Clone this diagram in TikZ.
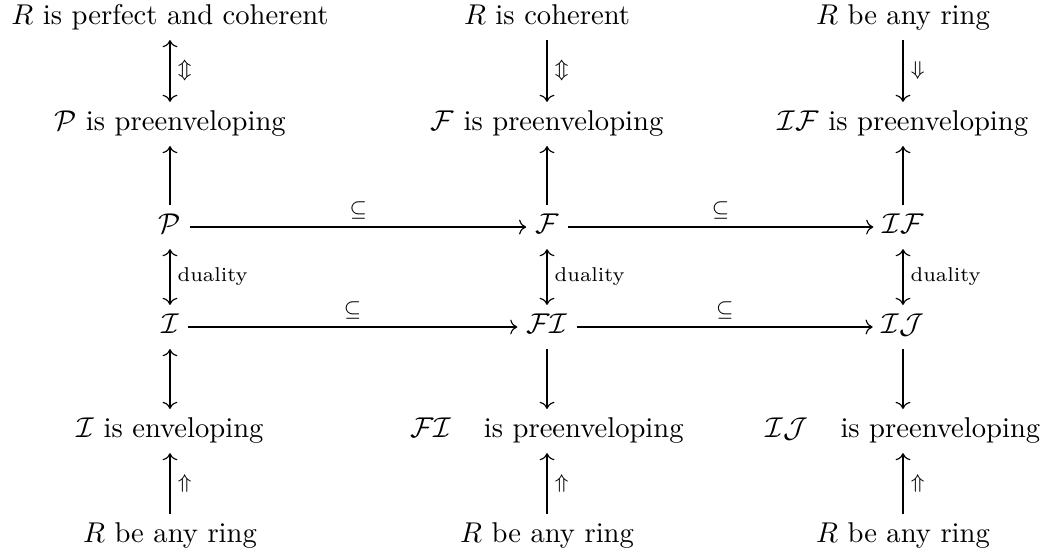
\documentclass[tikz,border=0pt]{standalone}
\usepackage{amsmath,amssymb}
\usepackage{tikz}
\usetikzlibrary{arrows.meta}

\begin{document}
\begin{tikzpicture}[
  x=1cm,y=1cm,
  obj/.style={text height=1.6ex,text depth=0.5ex,inner sep=3pt},
  arr/.style={-{Computer Modern Rightarrow},line width=0.4pt},
  darr/.style={{Computer Modern Rightarrow}-{Computer Modern Rightarrow},line width=0.4pt},
  lab/.style={font=\scriptsize,inner sep=2.5pt}
]
\useasboundingbox (0,0) rectangle (12.85,6.806);

% First column.
\node[obj] (r1) at (2.088,6.585) {$R$ is perfect and coherent};
\node[obj] (pp) at (2.088,5.283) {$\mathcal{P}$ is preenveloping};
\node[obj] (P) at (2.088,4.017) {$\mathcal{P}$};
\node[obj] (I) at (2.088,2.789) {$\mathcal{I}$};
\node[obj] (ie) at (2.088,1.511) {$\mathcal{I}$ is enveloping};
\node[obj] (rb1) at (2.088,0.221) {$R$ be any ring};

% Second column.
\node[obj] (rc) at (6.720,6.585) {$R$ is coherent};
\node[obj] (fp) at (6.720,5.283) {$\mathcal{F}$ is preenveloping};
\node[obj] (F) at (6.720,4.017) {$\mathcal{F}$};
\node[obj] (FI) at (6.720,2.789) {$\mathcal{FI}$};
\node[obj] (fip) at (6.720,1.511) {$\mathcal{FI}$\hspace{8pt} is preenveloping};
\node[obj] (rb2) at (6.720,0.221) {$R$ be any ring};

% Third column.
\node[obj] (ra) at (11.093,6.585) {$R$ be any ring};
\node[obj] (ifp) at (11.093,5.283) {$\mathcal{IF}$ is preenveloping};
\node[obj] (IF) at (11.093,4.017) {$\mathcal{IF}$};
\node[obj] (IJ) at (11.093,2.789) {$\mathcal{IJ}$};
\node[obj] (ijp) at (11.093,1.511) {$\mathcal{IJ}$\hspace{8pt} is preenveloping};
\node[obj] (rb3) at (11.093,0.221) {$R$ be any ring};

% Vertical arrows.
\draw[darr] (r1) -- node[lab,right] {$\Updownarrow$} (pp);
\draw[arr] (P) -- (pp);
\draw[darr] (P) -- node[lab,right] {duality} (I);
\draw[darr] (I) -- (ie);
\draw[arr] (rb1) -- node[lab,right] {$\Uparrow$} (ie);

\draw[arr] (rc) -- node[lab,right] {$\Updownarrow$} (fp);
\draw[arr] (F) -- (fp);
\draw[darr] (F) -- node[lab,right] {duality} (FI);
\draw[arr] (FI) -- (fip);
\draw[arr] (rb2) -- node[lab,right] {$\Uparrow$} (fip);

\draw[arr] (ra) -- node[lab,right] {$\Downarrow$} (ifp);
\draw[arr] (IF) -- (ifp);
\draw[darr] (IF) -- node[lab,right] {duality} (IJ);
\draw[arr] (IJ) -- (ijp);
\draw[arr] (rb3) -- node[lab,right] {$\Uparrow$} (ijp);

% Horizontal arrows.
\draw[arr] (P) -- node[lab,above] {$\subseteq$} (F);
\draw[arr] (F) -- node[lab,above] {$\subseteq$} (IF);
\draw[arr] (I) -- node[lab,above] {$\subseteq$} (FI);
\draw[arr] (FI) -- node[lab,above] {$\subseteq$} (IJ);
\end{tikzpicture}
\end{document}
